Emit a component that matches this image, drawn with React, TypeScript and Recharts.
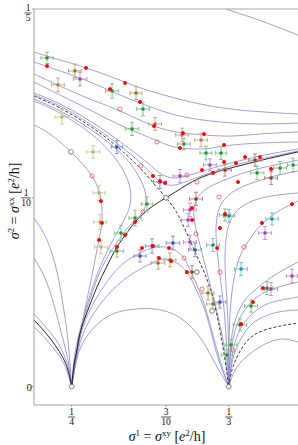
import { ComposedChart, Line, Scatter, XAxis, YAxis, ErrorBar, ReferenceLine, Label } from "recharts";

type P = [number, number];
type E = [number, number, number, number];

// flow lines, every point is [sigma_xy, sigma_xx]
const topA: P[] = [[0.3318, 0.2], [0.3445, 0.1958], [0.3578, 0.191], [0.37, 0.1862]];
const topB: P[] = [[0.23, 0.1772], [0.2438, 0.173], [0.2576, 0.1688], [0.2783, 0.1613], [0.2915, 0.1566], [0.318, 0.1497], [0.3445, 0.146], [0.37, 0.1444]];
const topC: P[] = [[0.23, 0.1719], [0.2438, 0.1672], [0.2597, 0.1613], [0.2756, 0.1545], [0.2905, 0.1486], [0.3074, 0.1433], [0.3286, 0.1402], [0.3498, 0.1391], [0.37, 0.1396]];
const topD: P[] = [[0.23, 0.1656], [0.2438, 0.1592], [0.2597, 0.1523], [0.2756, 0.146], [0.2937, 0.138], [0.309, 0.1343], [0.3202, 0.1333], [0.3339, 0.1327], [0.3498, 0.1338], [0.37, 0.1349]];
const topE: P[] = [[0.23, 0.1613], [0.2438, 0.1545], [0.2597, 0.1465], [0.2756, 0.1386], [0.2905, 0.1322], [0.2995, 0.1285], [0.3074, 0.1264], [0.3202, 0.1259], [0.3308, 0.1275], [0.3498, 0.129], [0.37, 0.1296]];
const upperA: P[] = [[0.23, 0.1555], [0.2438, 0.1497], [0.2597, 0.1407], [0.273, 0.1317], [0.2836, 0.1237], [0.2905, 0.1184], [0.2952, 0.1142], [0.2995, 0.1116], [0.3048, 0.1105], [0.3127, 0.1121], [0.3233, 0.1153], [0.3366, 0.119], [0.3525, 0.1227], [0.37, 0.1259]];
const upperB: P[] = [[0.23, 0.1545], [0.2438, 0.1486], [0.2597, 0.1391], [0.273, 0.1296], [0.2836, 0.1211], [0.2905, 0.1147], [0.2952, 0.11], [0.2995, 0.1073], [0.3048, 0.1068], [0.3127, 0.1094], [0.3233, 0.1132], [0.3366, 0.1174], [0.3525, 0.1211], [0.37, 0.1248]];
const leftA: P[] = [[0.23, 0.1523], [0.2438, 0.146], [0.2597, 0.1365], [0.273, 0.1264], [0.282, 0.1169], [0.2878, 0.1068], [0.2894, 0.0989], [0.2878, 0.0925], [0.2825, 0.0872], [0.2756, 0.0787], [0.2681, 0.0671], [0.2613, 0.0512], [0.2549, 0.03], [0.2517, 0.0141], [0.25, 0]];
const leftB: P[] = [[0.23, 0.1513], [0.2438, 0.1449], [0.2597, 0.1343], [0.2703, 0.1243], [0.2772, 0.1147], [0.2809, 0.1052], [0.2809, 0.0962], [0.2777, 0.0883], [0.2719, 0.0777], [0.2655, 0.0644], [0.2597, 0.0485], [0.2544, 0.03], [0.2512, 0.0141], [0.25, 0]];
const leftC: P[] = [[0.23, 0.1386], [0.2385, 0.1338], [0.2496, 0.1243], [0.2607, 0.1116], [0.2655, 0.0989], [0.266, 0.0867], [0.2644, 0.0777], [0.2613, 0.0618], [0.257, 0.0406], [0.2533, 0.0194], [0.25, 0]];
const edge1: P[] = [[0.23, 0.0893], [0.2369, 0.0777], [0.2422, 0.0607], [0.2454, 0.0433], [0.248, 0.0247], [0.25, 0]];
const edge2: P[] = [[0.23, 0.0681], [0.2358, 0.0575], [0.2406, 0.0433], [0.2448, 0.0274], [0.248, 0.0141], [0.25, 0]];
const edge3: P[] = [[0.23, 0.0385], [0.2358, 0.0321], [0.2417, 0.0247], [0.2459, 0.0168], [0.2486, 0.0088], [0.25, 0]];
const edge4: P[] = [[0.23, 0.0316], [0.2358, 0.0258], [0.2411, 0.0194], [0.2454, 0.0131], [0.248, 0.0067], [0.25, 0]];
const arc1: P[] = [[0.25, 0], [0.2523, 0.0168], [0.2555, 0.03], [0.2597, 0.0406], [0.265, 0.0501], [0.2714, 0.0591], [0.2783, 0.066], [0.2862, 0.0708], [0.2926, 0.0734], [0.2995, 0.074], [0.3048, 0.0724], [0.3095, 0.0681], [0.3133, 0.0607], [0.3175, 0.0512], [0.3212, 0.0406], [0.3249, 0.0274], [0.3286, 0.0141], [0.3333, 0]];
const arc2: P[] = [[0.25, 0], [0.2528, 0.0168], [0.2565, 0.029], [0.2618, 0.039], [0.2682, 0.0475], [0.2756, 0.0549], [0.2836, 0.0607], [0.2915, 0.065], [0.2984, 0.0676], [0.3048, 0.066], [0.3111, 0.0607], [0.3159, 0.0517], [0.3202, 0.0417], [0.3239, 0.029], [0.3276, 0.0152], [0.3333, 0]];
const arc3: P[] = [[0.25, 0], [0.2533, 0.0168], [0.2586, 0.0274], [0.265, 0.0343], [0.273, 0.039], [0.2836, 0.0411], [0.2942, 0.0411], [0.3048, 0.038], [0.3138, 0.0311], [0.3207, 0.0221], [0.3265, 0.0115], [0.3333, 0]];
const rise1: P[] = [[0.3333, 0], [0.3318, 0.0141], [0.3292, 0.03], [0.3255, 0.0459], [0.3217, 0.0607], [0.318, 0.075], [0.3154, 0.0856], [0.3148, 0.0936], [0.3164, 0.0994], [0.3207, 0.1042], [0.3297, 0.1089], [0.3445, 0.1142], [0.3578, 0.1174], [0.37, 0.12]];
const rise2: P[] = [[0.3333, 0], [0.3323, 0.0194], [0.3308, 0.0406], [0.3286, 0.0591], [0.3271, 0.0724], [0.3265, 0.083], [0.3276, 0.0925], [0.3308, 0.0989], [0.3371, 0.1042], [0.3472, 0.1084], [0.3578, 0.1116], [0.37, 0.1142]];
const rise3: P[] = [[0.3333, 0], [0.3331, 0.0247], [0.3323, 0.0459], [0.3313, 0.0644], [0.3318, 0.0777], [0.3339, 0.0872], [0.3392, 0.0946], [0.3488, 0.0994], [0.3594, 0.1015], [0.37, 0.1026]];
const rise4: P[] = [[0.3333, 0], [0.3334, 0.0194], [0.3339, 0.038], [0.3355, 0.0538], [0.3382, 0.066], [0.3414, 0.0734], [0.3456, 0.0798], [0.3509, 0.0861], [0.3589, 0.0925], [0.37, 0.0983]];
const rise5: P[] = [[0.3333, 0], [0.3339, 0.0141], [0.335, 0.0274], [0.3377, 0.038], [0.3419, 0.0459], [0.3472, 0.0512], [0.3552, 0.0575], [0.3631, 0.0623], [0.37, 0.066]];
const rise6: P[] = [[0.3333, 0], [0.3339, 0.0131], [0.3355, 0.0247], [0.3382, 0.0343], [0.343, 0.0422], [0.3498, 0.0485], [0.3594, 0.0527], [0.37, 0.0554]];
const rise7: P[] = [[0.3333, 0], [0.3345, 0.0115], [0.3361, 0.0215], [0.3392, 0.03], [0.3445, 0.0374], [0.3525, 0.0433], [0.3615, 0.0459], [0.37, 0.0475]];
const rise8: P[] = [[0.3333, 0], [0.3345, 0.0099], [0.3366, 0.0184], [0.3403, 0.0263], [0.3456, 0.0332], [0.3541, 0.038], [0.3631, 0.0401], [0.37, 0.0406]];
const arcRight: P[] = [[0.3333, 0], [0.3366, 0.0088], [0.3419, 0.0152], [0.3488, 0.0205], [0.3552, 0.0237], [0.362, 0.0253], [0.37, 0.0237]];

// separatrices
const blackMain: P[] = [[0.25, 0], [0.2512, 0.0115], [0.2528, 0.0194], [0.2544, 0.0284], [0.2586, 0.0406], [0.2634, 0.0528], [0.2687, 0.0639], [0.274, 0.074], [0.2788, 0.0808], [0.2836, 0.0872], [0.2915, 0.0946], [0.3, 0.1], [0.3101, 0.1063], [0.318, 0.1105], [0.3286, 0.1142], [0.3445, 0.1184], [0.3578, 0.1216], [0.37, 0.1243]];
const blackLeft: P[] = [[0.23, 0.0353], [0.2358, 0.029], [0.2411, 0.0221], [0.2454, 0.0152], [0.248, 0.0088], [0.25, 0]];
const dashedMain: P[] = [[0.23, 0.1539], [0.2438, 0.1476], [0.2597, 0.138], [0.273, 0.128], [0.2836, 0.1184], [0.2915, 0.11], [0.3, 0.1], [0.3064, 0.0909], [0.3138, 0.075], [0.3202, 0.0607], [0.3249, 0.0469], [0.3286, 0.03], [0.3313, 0.0141], [0.3333, 0]];
const dashedRight: P[] = [[0.3333, 0], [0.335, 0.0088], [0.3382, 0.0168], [0.3435, 0.0247], [0.3509, 0.0295], [0.3605, 0.0321], [0.37, 0.0337]];

const blueLines = [topA, topB, topC, topD, topE, upperA, upperB, leftA, leftB, leftC, edge1, edge2, edge3, edge4,
  arc1, arc2, arc3, rise1, rise2, rise3, rise4, rise5, rise6, rise7, rise8, arcRight];

// measured points
const redDots: P[] = [[0.2369, 0.1698], [0.2576, 0.1688], [0.2783, 0.1608], [0.2703, 0.1576], [0.2862, 0.1508],
  [0.2937, 0.138], [0.309, 0.1343], [0.3202, 0.1338], [0.3074, 0.1264], [0.3308, 0.128],
  [0.2655, 0.0983], [0.266, 0.0867], [0.2645, 0.0777], [0.2836, 0.0872], [0.2783, 0.0803], [0.274, 0.074],
  [0.2968, 0.1089], [0.2995, 0.1079], [0.2931, 0.1116], [0.3191, 0.1147], [0.3249, 0.1132], [0.3308, 0.119],
  [0.3371, 0.1184], [0.3419, 0.1216], [0.3498, 0.1216], [0.3557, 0.1153], [0.3382, 0.1084],
  [0.3138, 0.0946], [0.3138, 0.0883], [0.3313, 0.0914], [0.3286, 0.084], [0.3271, 0.0734], [0.3509, 0.0867], [0.3668, 0.0967],
  [0.2873, 0.0734], [0.2931, 0.0745], [0.3016, 0.0734], [0.2963, 0.0681], [0.3027, 0.0665], [0.3111, 0.0607],
  [0.3461, 0.0448], [0.3398, 0.0332], [0.3514, 0.0522]];
const openDots: P[] = [[0.2756, 0.147], [0.2952, 0.1296], [0.2608, 0.1116], [0.2867, 0.1169], [0.2878, 0.0925],
  [0.3111, 0.1121], [0.3164, 0.1084], [0.3281, 0.1004], [0.3414, 0.074], [0.3095, 0.0681], [0.3191, 0.0517],
  [0.3159, 0.0809], [0.3286, 0.0607], [0.3355, 0.0194]];
const fixedPoints: P[] = [[0.25, 0], [0.3333, 0], [0.2496, 0.1243], [0.3, 0.1], [0.3164, 0.0607], [0.3244, 0.0401]];

// points with error bars: [x, y, dx, dy]
const greenPts: E[] = [[0.2369, 0.1741, 0.0032, 0.003], [0.2714, 0.1566, 0.0035, 0.0038], [0.2878, 0.147, 0.0034, 0.0036],
  [0.282, 0.1365, 0.0036, 0.0035], [0.2836, 0.0893, 0.0032, 0.0042], [0.2761, 0.0814, 0.0035, 0.004], [0.274, 0.0718, 0.0036, 0.0032],
  [0.2899, 0.0967, 0.003, 0.0038], [0.3095, 0.1285, 0.0034, 0.003], [0.3212, 0.1237, 0.0032, 0.0036], [0.3292, 0.1237, 0.003, 0.0034],
  [0.3483, 0.1132, 0.0036, 0.0036], [0.3605, 0.1158, 0.0034, 0.0034], [0.3674, 0.1174, 0.003, 0.0036], [0.3313, 0.0909, 0.003, 0.0032],
  [0.3536, 0.0522, 0.0032, 0.0034], [0.3451, 0.0427, 0.0034, 0.0032], [0.3392, 0.0327, 0.0036, 0.0032], [0.3345, 0.0221, 0.0032, 0.003],
  [0.3323, 0.0168, 0.003, 0.0028]];
const olivePts: E[] = [[0.2517, 0.1672, 0.0034, 0.0036], [0.2841, 0.1555, 0.0032, 0.0034], [0.2958, 0.0655, 0.0036, 0.0032],
  [0.3021, 0.0671, 0.0032, 0.0036], [0.3223, 0.0496, 0.0032, 0.0036], [0.3249, 0.0438, 0.0034, 0.0032]];
const khakiPts: E[] = [[0.2448, 0.1428, 0.0036, 0.0038], [0.2613, 0.1243, 0.0036, 0.0034], [0.2645, 0.1026, 0.0032, 0.004],
  [0.265, 0.0872, 0.0034, 0.004], [0.2655, 0.074, 0.0034, 0.0036]];
const tanPts: E[] = [[0.2427, 0.1598, 0.0034, 0.0036], [0.2942, 0.1391, 0.0034, 0.0034], [0.3085, 0.1333, 0.0034, 0.0036],
  [0.3186, 0.1306, 0.0034, 0.0036]];
const purplePts: E[] = [[0.2544, 0.1629, 0.0036, 0.0036], [0.3074, 0.1116, 0.0036, 0.0034], [0.3233, 0.1174, 0.0034, 0.0032],
  [0.3127, 0.0936, 0.0034, 0.0036], [0.3117, 0.0883, 0.0034, 0.0034], [0.3127, 0.0766, 0.0034, 0.0036],
  [0.3557, 0.0517, 0.0034, 0.0034], [0.3668, 0.0586, 0.003, 0.0036], [0.3525, 0.0814, 0.0034, 0.0034]];
const tealPts: E[] = [[0.3334, 0.0904, 0.003, 0.0034], [0.3562, 0.0888, 0.0034, 0.0032], [0.3249, 0.075, 0.0034, 0.0034],
  [0.3398, 0.0623, 0.0034, 0.0034]];
const bluePts: E[] = [[0.274, 0.1269, 0.003, 0.0034], [0.2968, 0.1084, 0.0034, 0.0034], [0.2926, 0.0745, 0.0036, 0.0038],
  [0.3037, 0.0761, 0.0036, 0.0036], [0.2862, 0.0692, 0.0032, 0.0032], [0.3154, 0.0724, 0.0034, 0.0036], [0.3286, 0.0448, 0.0032, 0.0032]];
const brownPts: E[] = [[0.3159, 0.0994, 0.0034, 0.0036], [0.3313, 0.1147, 0.0034, 0.0032], [0.3472, 0.12, 0.0034, 0.0032],
  [0.3557, 0.1105, 0.0034, 0.0034], [0.3138, 0.0607, 0.0032, 0.0034]];

const xTicks = [0.25, 0.3, 1 / 3];
const xTickText = ["1/4", "3/10", "1/3"];
const yTicks = [0, 0.1, 0.2];
const yTickText = ["0", "1/10", "1/5"];

const serif = "'Liberation Serif', 'DejaVu Serif', serif";
const flowColor = "#8888cc";

const pts = (a: P[]) => a.map(([x, y]) => ({ x, y }));
const errPts = (a: E[]) => a.map(([x, y, ex, ey]) => ({ x, y, ex, ey }));
const nearest = (list: number[], v: number) => {
  let best = 0;
  list.forEach((t, i) => { if (Math.abs(t - v) < Math.abs(list[best] - v)) best = i; });
  return best;
};

const crossGroups = [
  { id: "green", data: greenPts, mark: "#2e8b3e", bar: "#86c28a" },
  { id: "olive", data: olivePts, mark: "#8a7424", bar: "#bcab6c" },
  { id: "khaki", data: khakiPts, mark: "#b8b27a", bar: "#cfcc96" },
  { id: "tan", data: tanPts, mark: "#a87a5a", bar: "#cfab90" },
  { id: "purple", data: purplePts, mark: "#93489c", bar: "#c596cc" },
  { id: "teal", data: tealPts, mark: "#1f8c8c", bar: "#7cc0c0" },
  { id: "blue", data: bluePts, mark: "#3a4e9a", bar: "#8a96cc" },
  { id: "brown", data: brownPts, mark: "#7a4030", bar: "#b68a7a" },
];

function Frac({ x, y, top, bottom }: { x: number; y: number; top: string; bottom: string }) {
  const w = bottom.length > 1 ? 5 : 3.5;
  return (
    <g fontFamily={serif} fontSize={9.5} textAnchor="middle" fill="#111">
      <text x={x} y={y - 2}>{top}</text>
      <line x1={x - w} x2={x + w} y1={y} y2={y} stroke="#111" strokeWidth={0.7} />
      <text x={x} y={y + 8}>{bottom}</text>
    </g>
  );
}

function XTick(props: any) {
  const { x, y, payload } = props;
  const [t, b] = xTickText[nearest(xTicks, payload.value)].split("/");
  return <Frac x={x} y={y + 8} top={t} bottom={b} />;
}

function YTick(props: any) {
  const { x, y, payload } = props;
  const i = nearest(yTicks, payload.value);
  const txt = yTickText[i];
  if (!txt.includes("/")) {
    return <text x={x + 2} y={y + 4} textAnchor="end" fontFamily={serif} fontSize={11} fill="#111">{txt}</text>;
  }
  const [t, b] = txt.split("/");
  return i === 2 ? <Frac x={x - 2} y={y + 4} top={t} bottom={b} /> : <Frac x={x - 4} y={y} top={t} bottom={b} />;
}

function Title({ x, y, sup, rotate }: { x: number; y: number; sup: [string, string]; rotate?: boolean }) {
  return (
    <text x={x} y={y} textAnchor="middle" fontFamily={serif} fontSize={14} fill="#111"
      transform={rotate ? `rotate(-90 ${x} ${y})` : undefined}>
      <tspan fontStyle="italic">σ</tspan>
      <tspan dy={-5} fontSize={9}>{sup[0]}</tspan>
      <tspan dy={5}> = </tspan>
      <tspan fontStyle="italic">σ</tspan>
      <tspan dy={-5} fontSize={9}>{sup[1]}</tspan>
      <tspan dy={5}> [</tspan>
      <tspan fontStyle="italic">e</tspan>
      <tspan dy={-5} fontSize={9}>2</tspan>
      <tspan dy={5}>/h]</tspan>
    </text>
  );
}

const dotShape = (fill: string, stroke: string, r: number) => (p: any) =>
  <circle cx={p.cx} cy={p.cy} r={r} fill={fill} stroke={stroke} strokeWidth={0.8} />;

export default function App() {
  return (
    <div style={{ position: "absolute", left: 0, top: 0, background: "#fff" }}>
      <ComposedChart width={298} height={445} margin={{ top: 9, right: 0, bottom: 0, left: 0 }}>
        <XAxis type="number" dataKey="x" domain={[0.23, 0.37]} ticks={xTicks} allowDataOverflow interval={0}
          height={40} tickSize={2} tickMargin={2} tick={<XTick />}
          axisLine={{ stroke: "#d2d2d2", strokeWidth: 2 }} tickLine={{ stroke: "#999" }}>
          <Label content={() => <Title x={167} y={441} sup={["1", "xy"]} />} />
        </XAxis>
        <YAxis type="number" dataKey="y" domain={[-0.0097, 0.2]} ticks={yTicks} allowDataOverflow interval={0}
          width={34} tickSize={2} tickMargin={2} tick={<YTick />}
          axisLine={{ stroke: "#a0a0a0" }} tickLine={{ stroke: "#999" }}>
          <Label content={() => <Title x={19} y={201} sup={["2", "xx"]} rotate />} />
        </YAxis>
        <ReferenceLine y={0.2} stroke="#a8a8a8" />

        {blueLines.map((l, i) => (
          <Line key={"f" + i} data={pts(l)} dataKey="y" type="natural" stroke={flowColor} strokeWidth={0.8}
            dot={false} activeDot={false} isAnimationActive={false} legendType="none" />
        ))}
        <Line data={pts(blackMain)} dataKey="y" type="natural" stroke="#111" strokeWidth={0.9}
          dot={false} activeDot={false} isAnimationActive={false} />
        <Line data={pts(blackLeft)} dataKey="y" type="natural" stroke="#111" strokeWidth={0.9}
          dot={false} activeDot={false} isAnimationActive={false} />
        <Line data={pts(dashedMain)} dataKey="y" type="natural" stroke="#222" strokeWidth={0.9} strokeDasharray="3 2"
          dot={false} activeDot={false} isAnimationActive={false} />
        <Line data={pts(dashedRight)} dataKey="y" type="natural" stroke="#222" strokeWidth={0.9} strokeDasharray="3 2"
          dot={false} activeDot={false} isAnimationActive={false} />

        {crossGroups.map((g) => (
          <Scatter key={g.id} data={errPts(g.data)} dataKey="y" isAnimationActive={false}
            shape={(p: any) => <rect x={p.cx - 1.5} y={p.cy - 1.5} width={3} height={3} fill={g.mark} />}>
            <ErrorBar dataKey="ex" direction="x" width={2} stroke={g.bar} strokeWidth={1} isAnimationActive={false} />
            <ErrorBar dataKey="ey" direction="y" width={2} stroke={g.bar} strokeWidth={1} isAnimationActive={false} />
          </Scatter>
        ))}

        <Scatter data={pts(openDots)} dataKey="y" isAnimationActive={false} shape={dotShape("none", "#f0506a", 2.1)} />
        <Scatter data={pts(redDots)} dataKey="y" isAnimationActive={false} shape={dotShape("#ff0000", "#ff0000", 1.6)} />
        <Scatter data={pts(fixedPoints)} dataKey="y" isAnimationActive={false} shape={dotShape("#fff", "#666", 2.4)} />
      </ComposedChart>
    </div>
  );
}
